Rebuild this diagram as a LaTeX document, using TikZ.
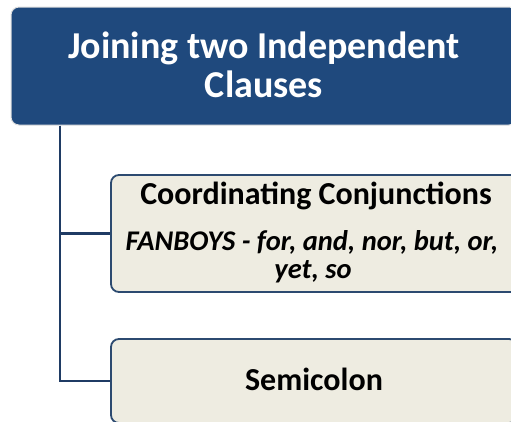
\documentclass[tikz,border=0pt]{standalone}
\usepackage{fontspec}
\setmainfont{Carlito}
\definecolor{titleblue}{HTML}{1F497D}
\definecolor{beige}{HTML}{EEECE1}
\definecolor{edgeblue}{HTML}{2C4A70}
\definecolor{linkblue}{HTML}{1F3B64}
\tikzset{
  titlebox/.style={draw=gray!25, line width=1pt, fill=titleblue, rounded corners=8pt, inner sep=0pt},
  childbox/.style={draw=edgeblue, line width=1.8pt, fill=beige, rounded corners=8pt, inner sep=0pt},
  titletext/.style={anchor=base, inner sep=0pt, text=white, font=\fontsize{38}{40}\selectfont\bfseries},
  headtext/.style={anchor=base, inner sep=0pt, font=\fontsize{32}{36}\selectfont\bfseries},
  itext/.style={anchor=base, inner sep=0pt, font=\fontsize{28.5}{30}\selectfont\bfseries\itshape},
  link/.style={draw=linkblue, line width=2.8pt}
}
\begin{document}
\begin{tikzpicture}[x=1pt,y=-1pt]
\useasboundingbox (0,0) rectangle (511,421);
\clip (0,0) rectangle (511,421);
\fill[white] (0,0) rectangle (511,421);
\node[titlebox, minimum width=506pt, minimum height=118pt] (title) at (264,66) {};
\node[titletext] (t1) at (264,58) {Joining two Independent};
\node[titletext] (t2) at (264,97) {Clauses};
\node[childbox, minimum width=410pt, minimum height=117pt] (c1) at (316,233.5) {};
\node[headtext] (h1) at (316,204) {Coordinating Conjunctions};
\node[itext] (i1) at (312,250) {FANBOYS - for, and, nor, but, or,};
\node[itext] (i2) at (313,278) {yet, so};
\node[childbox, minimum width=406pt, minimum height=84pt] (c2) at (314,381) {};
\node[headtext] (h2) at (314,390) {Semicolon};
\coordinate (vx) at (60,0);
\draw[link] (title.south -| vx) |- (c1.west);
\draw[link] (title.south -| vx) |- (c2.west);
\end{tikzpicture}
\end{document}
